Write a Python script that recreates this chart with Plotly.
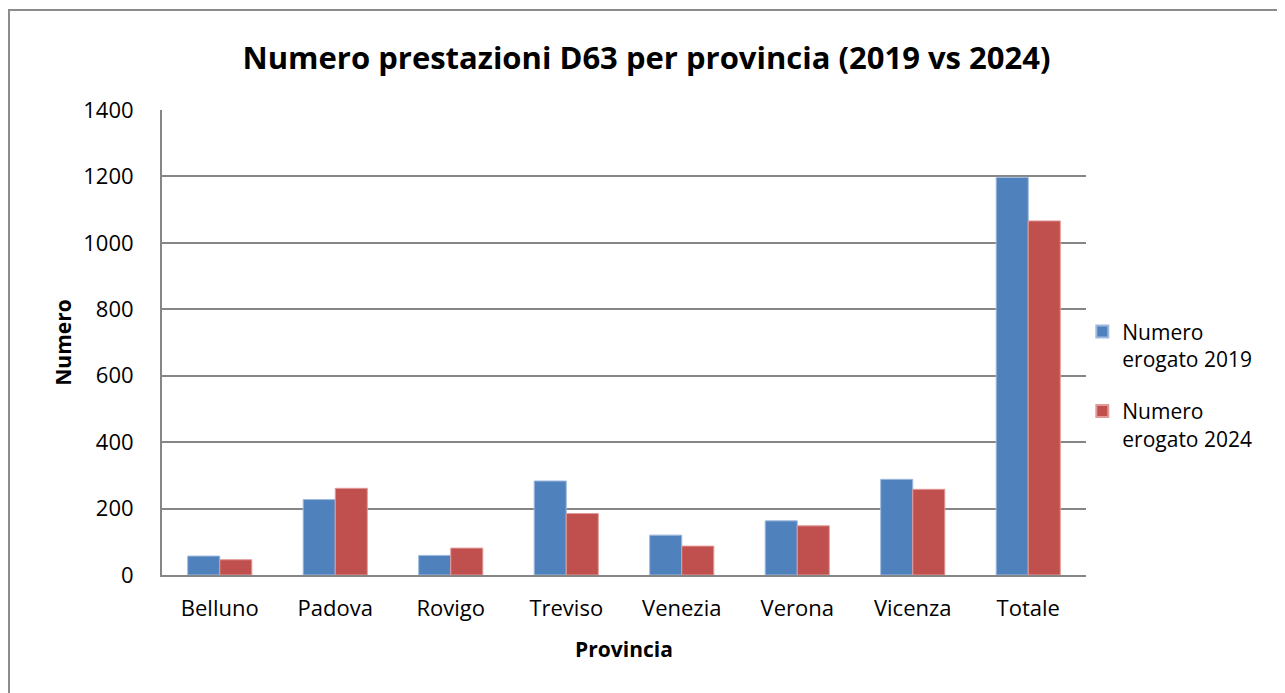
import plotly.graph_objects as go

# Data
province = ["Belluno", "Padova", "Rovigo", "Treviso", "Venezia", "Verona", "Vicenza", "Totale"]
erogato_2019 = [57, 227, 59, 283, 120, 163, 288, 1197]
erogato_2024 = [46, 261, 81, 185, 87, 148, 258, 1066]
y_ticks = [0, 200, 400, 600, 800, 1000, 1200, 1400]

FONT = "Open Sans, Carlito, Calibri, sans-serif"
GRID = "#868686"

fig = go.Figure()

fig.add_trace(go.Bar(
    x=province,
    y=erogato_2019,
    name="Numero<br>erogato 2019",
    legendgroup="2019",
    marker=dict(color="#4F81BD", line=dict(color="#9DB9DE", width=1))
))

fig.add_trace(go.Bar(
    x=province,
    y=erogato_2024,
    name="Numero<br>erogato 2024",
    legendgroup="2024",
    marker=dict(color="#C0504D", line=dict(color="#E29A98", width=1))
))

# Outer chart frame (right and bottom edges fall outside the page)
fig.add_shape(
    type="rect", xref="paper", yref="paper",
    x0=-0.1656, x1=1.30, y0=-0.35, y1=1.215,
    line=dict(color="#8C8C8C", width=2), layer="below"
)

# page body has an 8px margin, so the figure is sized/offset to compensate
fig.update_layout(
    width=1277,
    height=685,
    margin=dict(l=154, r=199, t=102, b=118),
    paper_bgcolor="white",
    plot_bgcolor="white",
    font=dict(family=FONT, size=22, color="black"),
    title=dict(
        text="<b>Numero prestazioni D63 per provincia (2019 vs 2024)</b>",
        x=0.5, xref="container", xanchor="center",
        y=0.927, yref="container", yanchor="middle",
        font=dict(family=FONT, size=31, color="black")
    ),
    barmode="group",
    bargap=0.445,
    bargroupgap=0,
    showlegend=True,
    legend=dict(
        x=0.996, y=0.567, xanchor="left", yanchor="top",
        font=dict(family=FONT, size=21, color="black"),
        valign="top",
        itemsizing="constant",
        tracegroupgap=22,
        bgcolor="rgba(0,0,0,0)"
    ),
    xaxis=dict(
        title=dict(text="<b>Provincia</b>", font=dict(family=FONT, size=21), standoff=21),
        showline=True, linecolor=GRID, linewidth=2,
        ticks="", showgrid=False,
        ticklabelstandoff=13,
        tickfont=dict(family=FONT, size=22),
    ),
    yaxis=dict(
        title=dict(text="<b>Numero</b>", font=dict(family=FONT, size=21), standoff=6),
        range=[0, 1400],
        tickvals=y_ticks,
        showline=True, linecolor=GRID, linewidth=2,
        showgrid=True, gridcolor=GRID, gridwidth=2,
        zeroline=False,
        ticks="", ticklen=0,
        ticklabelstandoff=22,
        tickfont=dict(family=FONT, size=22),
    ),
)

fig.write_html("out.html")
